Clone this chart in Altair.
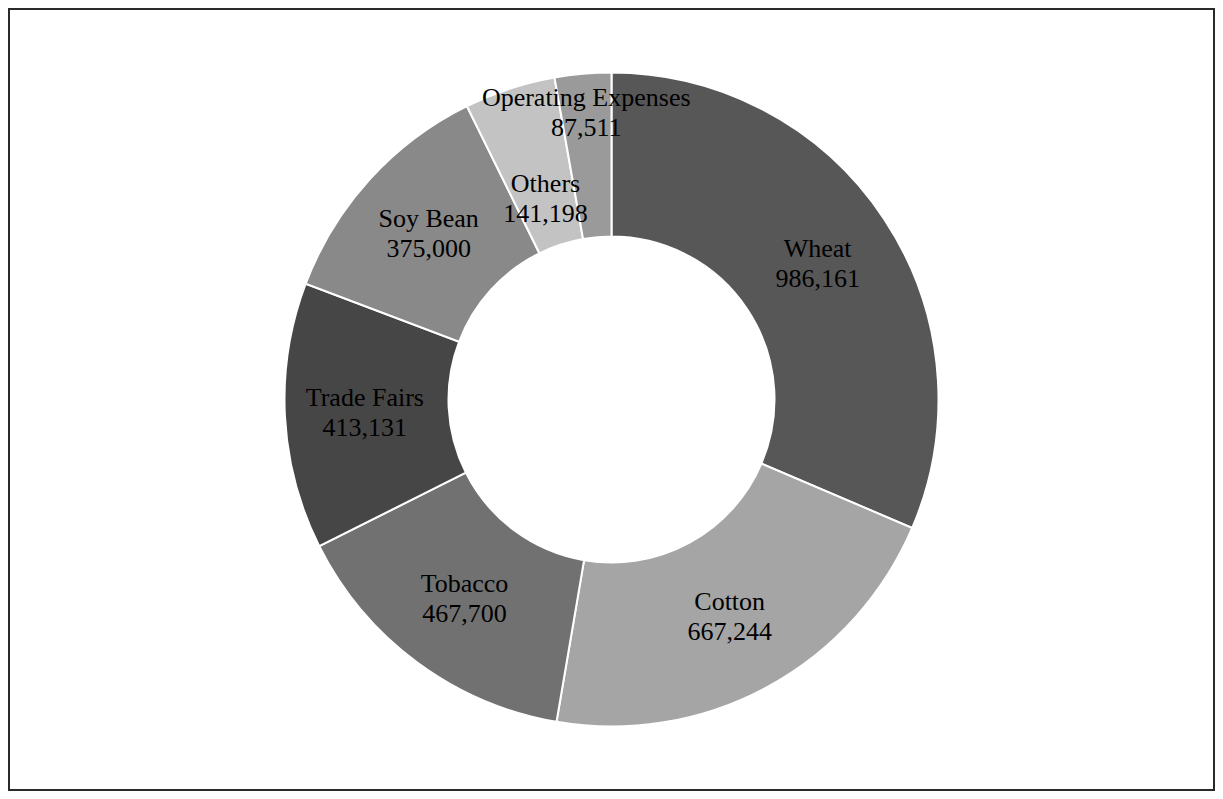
import altair as alt
import pandas as pd

categories = ["Wheat", "Cotton", "Tobacco", "Trade Fairs", "Soy Bean", "Others", "Operating Expenses"]
values = [986161, 667244, 467700, 413131, 375000, 141198, 87511]
colors = ["#575757", "#a5a5a5", "#717171", "#464646", "#898989", "#c3c3c3", "#9a9a9a"]

df = pd.DataFrame({"category": categories, "value": values, "order": list(range(len(categories)))})

arcs = alt.Chart(df).mark_arc(outerRadius=327, innerRadius=163, stroke="white", strokeWidth=2).encode(
    theta=alt.Theta("value:Q", stack=True),
    order=alt.Order("order:Q", sort="ascending"),
    color=alt.Color("category:N", scale=alt.Scale(domain=categories, range=colors), legend=None),
)

labels = alt.Chart(df).transform_joinaggregate(
    total="sum(value)"
).transform_window(
    cum="sum(value)", sort=[alt.SortField("order", order="ascending")], frame=[None, 0]
).transform_calculate(
    mid="(datum.cum - datum.value / 2) / datum.total * 2 * PI",
    label="datum.category + '\\n' + format(datum.value, ',')",
    r="datum.category == 'Others' ? 212 : (datum.category == 'Operating Expenses' ? 289 : 247)",
).mark_text(
    font="Liberation Serif", fontSize=26, color="black", lineBreak="\n", lineHeight=30,
    align="center", baseline="middle", dy=-14,
).encode(
    theta=alt.Theta("mid:Q", scale=None, stack=False),
    radius=alt.Radius("r:Q", scale=None),
    text="label:N",
)

frame = alt.Chart(df).mark_rect(fill=None, stroke="#2a2a2a", strokeWidth=2).encode(
    x=alt.value(1), x2=alt.value(1206), y=alt.value(1), y2=alt.value(782)
)

chart = alt.layer(arcs, labels, frame).resolve_scale(theta="independent").properties(
    width=1207, height=783,
    autosize=alt.AutoSizeParams(type="none"),
    padding=0,
    background="white",
).configure_view(stroke=None)

chart.save("out.html", embed_options={"renderer": "svg", "actions": False})
